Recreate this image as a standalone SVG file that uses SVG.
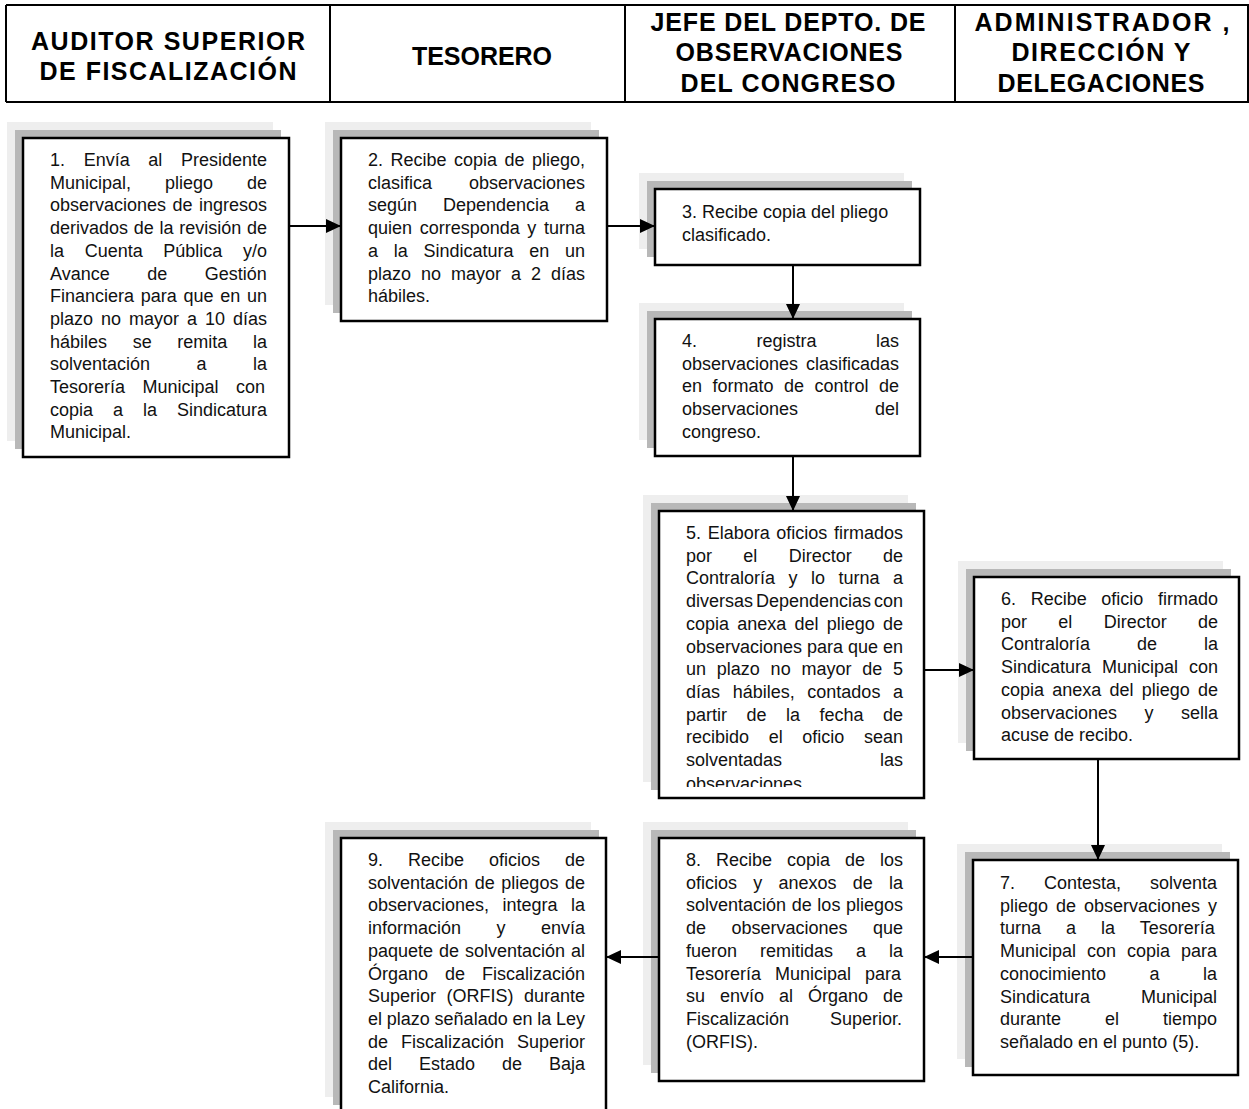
<svg xmlns="http://www.w3.org/2000/svg" width="1249" height="1109" viewBox="0 0 1249 1109">
  <style>
    .hdr-line { stroke: #000; stroke-width: 2; fill: none; }
    .hdr { font-family: "Liberation Sans", Arial, sans-serif; font-weight: bold; font-size: 25px; fill: #000; text-anchor: middle; }
    .sh-light { fill: #eeeeee; }
    .sh-dark { fill: #b8b8b8; }
    .box { fill: #fff; stroke: #000; stroke-width: 2.5; }
    .body { font-family: "Liberation Sans", Arial, sans-serif; font-size: 18px; fill: #111; }
    .conn { stroke: #000; stroke-width: 2; fill: none; marker-end: url(#arrow); }
  </style>
  <defs>
    <marker id="arrow" markerUnits="userSpaceOnUse" markerWidth="16" markerHeight="14" refX="15" refY="7" orient="auto">
      <path d="M0,0 L15,7 L0,14 Z" fill="#000"/>
    </marker>
    <clipPath id="clip5">
      <rect x="659" y="511" width="265" height="276"/>
    </clipPath>
  </defs>

  <rect width="1249" height="1109" fill="#fff"/>

  <!-- Column headers -->
  <g id="header">
    <path class="hdr-line" d="M6,5 H1249 M6,102 H1249 M6,5 V102 M330,5 V102 M625,5 V102 M955,5 V102 M1248,5 V102"/>
    <text class="hdr" x="168" y="50" textLength="274" lengthAdjust="spacing">AUDITOR SUPERIOR</text>
    <text class="hdr" x="168" y="80" textLength="257" lengthAdjust="spacing">DE FISCALIZACIÓN</text>
    <text class="hdr" x="482" y="65" textLength="140" lengthAdjust="spacing">TESORERO</text>
    <text class="hdr" x="788" y="31" textLength="275" lengthAdjust="spacing">JEFE DEL DEPTO. DE</text>
    <text class="hdr" x="789" y="61" textLength="227" lengthAdjust="spacing">OBSERVACIONES</text>
    <text class="hdr" x="788" y="92" textLength="215" lengthAdjust="spacing">DEL CONGRESO</text>
    <text class="hdr" x="1102" y="31" textLength="255" lengthAdjust="spacing">ADMINISTRADOR ,</text>
    <text class="hdr" x="1101" y="61" textLength="179" lengthAdjust="spacing">DIRECCIÓN Y</text>
    <text class="hdr" x="1101" y="92" textLength="207" lengthAdjust="spacing">DELEGACIONES</text>
  </g>

  <!-- Step 1 -->
  <g id="step1">
    <rect class="sh-light" x="7" y="122" width="266" height="319"/>
    <rect class="sh-dark" x="15" y="130" width="266" height="319"/>
    <rect class="box" x="23" y="138" width="266" height="319"/>
    <text class="body">
      <tspan x="50" y="166" style="word-spacing:13.64px">1. Envía al Presidente</tspan>
      <tspan x="50" y="188.7" style="word-spacing:28.97px">Municipal, pliego de</tspan>
      <tspan x="50" y="211.4" style="word-spacing:1.46px">observaciones de ingresos</tspan>
      <tspan x="50" y="234.1" style="word-spacing:0.73px">derivados de la revisión de</tspan>
      <tspan x="50" y="256.8" style="word-spacing:15.64px">la Cuenta Pública y/o</tspan>
      <tspan x="50" y="279.5" style="word-spacing:32.46px">Avance de Gestión</tspan>
      <tspan x="50" y="302.2" style="word-spacing:1.72px">Financiera para que en un</tspan>
      <tspan x="50" y="324.9" style="word-spacing:2.98px">plazo no mayor a 10 días</tspan>
      <tspan x="50" y="347.6" style="word-spacing:20.65px">hábiles se remita la</tspan>
      <tspan x="50" y="370.3" style="word-spacing:41.47px">solventación a la</tspan>
      <tspan x="50" y="393" style="word-spacing:12.47px">Tesorería Municipal con</tspan>
      <tspan x="50" y="415.7" style="word-spacing:14.98px">copia a la Sindicatura</tspan>
      <tspan x="50" y="438.4">Municipal.</tspan>
    </text>
  </g>

  <!-- Step 2 -->
  <g id="step2">
    <rect class="sh-light" x="325" y="122" width="266" height="183"/>
    <rect class="sh-dark" x="333" y="130" width="266" height="183"/>
    <rect class="box" x="341" y="138" width="266" height="183"/>
    <text class="body">
      <tspan x="368" y="166" style="word-spacing:2.48px">2. Recibe copia de pliego,</tspan>
      <tspan x="368" y="188.7" style="word-spacing:31.95px">clasifica observaciones</tspan>
      <tspan x="368" y="211.4" style="word-spacing:20.95px">según Dependencia a</tspan>
      <tspan x="368" y="234.1" style="word-spacing:2.63px">quien corresponda y turna</tspan>
      <tspan x="368" y="256.8" style="word-spacing:10.73px">a la Sindicatura en un</tspan>
      <tspan x="368" y="279.5" style="word-spacing:4.98px">plazo no mayor a 2 días</tspan>
      <tspan x="368" y="302.2">hábiles.</tspan>
    </text>
  </g>

  <!-- Step 3 -->
  <g id="step3">
    <rect class="sh-light" x="639" y="173" width="265" height="76"/>
    <rect class="sh-dark" x="647" y="181" width="265" height="76"/>
    <rect class="box" x="655" y="189" width="265" height="76"/>
    <text class="body">
      <tspan x="682" y="218">3. Recibe copia del pliego</tspan>
      <tspan x="682" y="240.7">clasificado.</tspan>
    </text>
  </g>

  <!-- Step 4 -->
  <g id="step4">
    <rect class="sh-light" x="639" y="303" width="265" height="137"/>
    <rect class="sh-dark" x="647" y="311" width="265" height="137"/>
    <rect class="box" x="655" y="319" width="265" height="137"/>
    <text class="body">
      <tspan x="682" y="347" style="word-spacing:54.49px">4. registra las</tspan>
      <tspan x="682" y="369.7" style="word-spacing:2.93px">observaciones clasificadas</tspan>
      <tspan x="682" y="392.4" style="word-spacing:5.48px">en formato de control de</tspan>
      <tspan x="682" y="415.1" style="word-spacing:71.95px">observaciones del</tspan>
      <tspan x="682" y="437.8">congreso.</tspan>
    </text>
  </g>

  <!-- Step 5 (text runs past the frame and is cut at its lower edge) -->
  <g id="step5">
    <rect class="sh-light" x="643" y="495" width="265" height="287"/>
    <rect class="sh-dark" x="651" y="503" width="265" height="287"/>
    <rect class="box" x="659" y="511" width="265" height="287"/>
    <text class="body" clip-path="url(#clip5)">
      <tspan x="686" y="539" style="word-spacing:1.64px">5. Elabora oficios firmados</tspan>
      <tspan x="686" y="561.7" style="word-spacing:26.32px">por el Director de</tspan>
      <tspan x="686" y="584.4" style="word-spacing:8.48px">Contraloría y lo turna a</tspan>
      <tspan x="686" y="607.1" style="word-spacing:-2.04px">diversas Dependencias con</tspan>
      <tspan x="686" y="629.8" style="word-spacing:3.22px">copia anexa del pliego de</tspan>
      <tspan x="686" y="652.5" style="word-spacing:-0.04px">observaciones para que en</tspan>
      <tspan x="686" y="675.2" style="word-spacing:5.78px">un plazo no mayor de 5</tspan>
      <tspan x="686" y="697.9" style="word-spacing:7.63px">días hábiles, contados a</tspan>
      <tspan x="686" y="720.6" style="word-spacing:14.48px">partir de la fecha de</tspan>
      <tspan x="686" y="743.3" style="word-spacing:14.65px">recibido el oficio sean</tspan>
      <tspan x="686" y="766" style="word-spacing:92.95px">solventadas las</tspan>
      <tspan x="686" y="789.5">observaciones.</tspan>
    </text>
  </g>

  <!-- Step 6 -->
  <g id="step6">
    <rect class="sh-light" x="958" y="561" width="265" height="182"/>
    <rect class="sh-dark" x="966" y="569" width="265" height="182"/>
    <rect class="box" x="974" y="577" width="265" height="182"/>
    <text class="body">
      <tspan x="1001" y="605" style="word-spacing:9.65px">6. Recibe oficio firmado</tspan>
      <tspan x="1001" y="627.7" style="word-spacing:26.32px">por el Director de</tspan>
      <tspan x="1001" y="650.4" style="word-spacing:41.98px">Contraloría de la</tspan>
      <tspan x="1001" y="673.1" style="word-spacing:5.97px">Sindicatura Municipal con</tspan>
      <tspan x="1001" y="695.8" style="word-spacing:3.22px">copia anexa del pliego de</tspan>
      <tspan x="1001" y="718.5" style="word-spacing:22.47px">observaciones y sella</tspan>
      <tspan x="1001" y="741.2">acuse de recibo.</tspan>
    </text>
  </g>

  <!-- Step 7 -->
  <g id="step7">
    <rect class="sh-light" x="957" y="844" width="265" height="215"/>
    <rect class="sh-dark" x="965" y="852" width="265" height="215"/>
    <rect class="box" x="973" y="860" width="265" height="215"/>
    <text class="body">
      <tspan x="1000" y="889" style="word-spacing:23.96px">7. Contesta, solventa</tspan>
      <tspan x="1000" y="911.7" style="word-spacing:2.97px">pliego de observaciones y</tspan>
      <tspan x="1000" y="934.4" style="word-spacing:19.98px">turna a la Tesorería</tspan>
      <tspan x="1000" y="957.1" style="word-spacing:5.98px">Municipal con copia para</tspan>
      <tspan x="1000" y="979.8" style="word-spacing:38.48px">conocimiento a la</tspan>
      <tspan x="1000" y="1002.5" style="word-spacing:45.95px">Sindicatura Municipal</tspan>
      <tspan x="1000" y="1025.2" style="word-spacing:38.97px">durante el tiempo</tspan>
      <tspan x="1000" y="1047.9">señalado en el punto (5).</tspan>
    </text>
  </g>

  <!-- Step 8 -->
  <g id="step8">
    <rect class="sh-light" x="643" y="822" width="265" height="243"/>
    <rect class="sh-dark" x="651" y="830" width="265" height="243"/>
    <rect class="box" x="659" y="838" width="265" height="243"/>
    <text class="body">
      <tspan x="686" y="866" style="word-spacing:9.98px">8. Recibe copia de los</tspan>
      <tspan x="686" y="888.7" style="word-spacing:11.23px">oficios y anexos de la</tspan>
      <tspan x="686" y="911.4" style="word-spacing:0.64px">solventación de los pliegos</tspan>
      <tspan x="686" y="934.1" style="word-spacing:20.46px">de observaciones que</tspan>
      <tspan x="686" y="956.8" style="word-spacing:17.98px">fueron remitidas a la</tspan>
      <tspan x="686" y="979.5" style="word-spacing:8.97px">Tesorería Municipal para</tspan>
      <tspan x="686" y="1002.2" style="word-spacing:9.98px">su envío al Órgano de</tspan>
      <tspan x="686" y="1024.9" style="word-spacing:35.96px">Fiscalización Superior.</tspan>
      <tspan x="686" y="1047.6">(ORFIS).</tspan>
    </text>
  </g>

  <!-- Step 9 (frame continues below the page edge) -->
  <g id="step9">
    <rect class="sh-light" x="325" y="822" width="266" height="275"/>
    <rect class="sh-dark" x="333" y="830" width="266" height="275"/>
    <rect class="box" x="341" y="838" width="265" height="280"/>
    <text class="body">
      <tspan x="368" y="866" style="word-spacing:19.98px">9. Recibe oficios de</tspan>
      <tspan x="368" y="888.7" style="word-spacing:1.63px">solventación de pliegos de</tspan>
      <tspan x="368" y="911.4" style="word-spacing:8.46px">observaciones, integra la</tspan>
      <tspan x="368" y="934.1" style="word-spacing:30.47px">información y envía</tspan>
      <tspan x="368" y="956.8" style="word-spacing:0.96px">paquete de solventación al</tspan>
      <tspan x="368" y="979.5" style="word-spacing:11.97px">Órgano de Fiscalización</tspan>
      <tspan x="368" y="1002.2" style="word-spacing:5.47px">Superior (ORFIS) durante</tspan>
      <tspan x="368" y="1024.9" style="word-spacing:-0.22px">el plazo señalado en la Ley</tspan>
      <tspan x="368" y="1047.6" style="word-spacing:7.97px">de Fiscalización Superior</tspan>
      <tspan x="368" y="1070.3" style="word-spacing:21.97px">del Estado de Baja</tspan>
      <tspan x="368" y="1093">California.</tspan>
    </text>
  </g>

  <!-- Flow connectors -->
  <g id="connectors">
    <path class="conn" d="M289,226 H341"/>
    <path class="conn" d="M607,226 H655"/>
    <path class="conn" d="M793,265 V319"/>
    <path class="conn" d="M793,456 V511"/>
    <path class="conn" d="M924,670 H974"/>
    <path class="conn" d="M1098,759 V860"/>
    <path class="conn" d="M973,957 H924"/>
    <path class="conn" d="M659,957 H606"/>
  </g>
</svg>
